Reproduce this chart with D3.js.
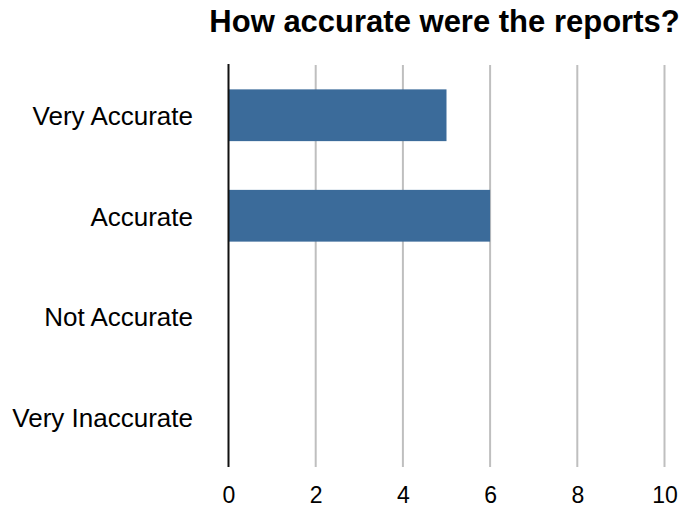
<!DOCTYPE html>
<html>
<head>
<meta charset="utf-8">
<script src="https://cdn.jsdelivr.net/npm/d3@7"></script>
<style>
  html, body { margin: 0; padding: 0; background: #fff; }
  svg { display: block; font-family: "Liberation Sans", Arial, Helvetica, sans-serif; }
</style>
</head>
<body>
<svg id="chart" width="681" height="508"></svg>
<script>
// Survey responses
const categories = ["Very Accurate", "Accurate", "Not Accurate", "Very Inaccurate"];
const counts = [5, 6, 0, 0];
const xTicks = [0, 2, 4, 6, 8, 10];
const title = "How accurate were the reports?";

const svg = d3.select("#chart");
const plot = { left: 228.5, right: 664.5, top: 65, bottom: 467 };

const x = d3.scaleLinear().domain([0, 10]).range([plot.left, plot.right]);
const y = d3.scaleBand().domain(categories).range([plot.top, plot.bottom]).padding(0);
const barH = y.bandwidth() * 0.515;

// Title
svg.append("text")
  .attr("x", 444.5).attr("y", 32)
  .attr("text-anchor", "middle")
  .attr("font-size", 31).attr("font-weight", "bold")
  .attr("fill", "#000")
  .text(title);

// Vertical grid lines
svg.append("g").selectAll("line")
  .data(xTicks.filter(d => d !== 0))
  .join("line")
  .attr("x1", d => x(d)).attr("x2", d => x(d))
  .attr("y1", plot.top).attr("y2", plot.bottom)
  .attr("stroke", "#bfbfbf").attr("stroke-width", 2);

// Bars
svg.append("g").selectAll("rect")
  .data(categories.map((c, i) => ({ c, v: counts[i] })).filter(d => d.v > 0))
  .join("rect")
  .attr("x", x(0))
  .attr("y", d => y(d.c) + (y.bandwidth() - barH) / 2)
  .attr("width", d => x(d.v) - x(0))
  .attr("height", barH)
  .attr("fill", "#3b6b9a");

// Zero baseline
svg.append("line")
  .attr("x1", x(0)).attr("x2", x(0))
  .attr("y1", plot.top - 1).attr("y2", plot.bottom)
  .attr("stroke", "#111").attr("stroke-width", 2);

// X axis labels
const xAxis = d3.axisBottom(x).tickValues(xTicks).tickSize(0).tickPadding(0).tickFormat(d3.format("d"));
const gx = svg.append("g").attr("transform", `translate(0,${plot.bottom})`).call(xAxis);
gx.select(".domain").remove();
gx.selectAll("text")
  .attr("y", 36).attr("dy", null)
  .attr("font-size", 23).attr("fill", "#000")
  .attr("font-family", "'Liberation Sans', Arial, sans-serif");

// Category labels
const yAxis = d3.axisLeft(y).tickSize(0).tickPadding(0);
const gy = svg.append("g").attr("transform", `translate(${plot.left - 35.5},0)`).call(yAxis);
gy.select(".domain").remove();
gy.selectAll("text")
  .attr("x", 0).attr("dy", "0.38em")
  .attr("font-size", 26).attr("fill", "#000")
  .attr("font-family", "'Liberation Sans', Arial, sans-serif");
</script>
</body>
</html>
